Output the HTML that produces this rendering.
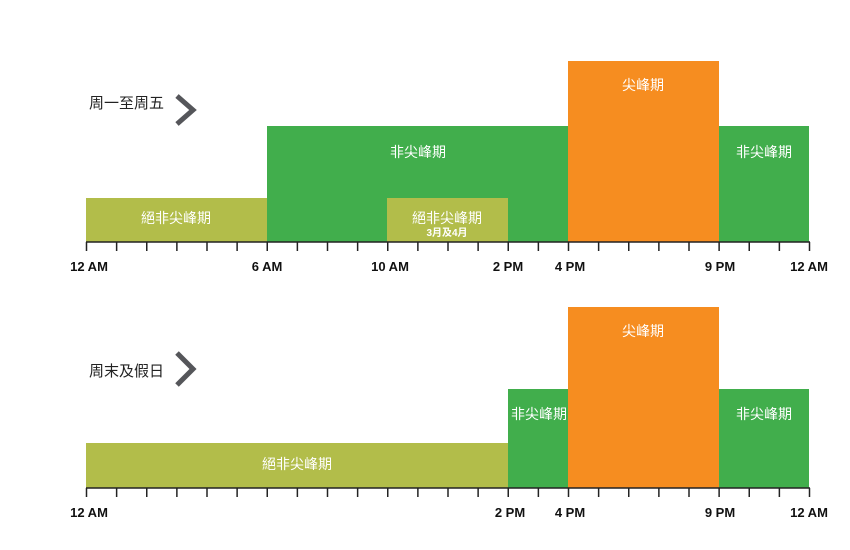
<!DOCTYPE html>
<html><head><meta charset="utf-8"><style>
html,body{margin:0;padding:0;background:#fff;}
svg{display:block;}
.w{fill:#fff;font-family:"Liberation Sans","Noto Sans CJK SC",sans-serif;font-size:14px;}
.lab{fill:#111;font-family:"Liberation Sans Narrow","Liberation Sans",sans-serif;font-weight:bold;font-size:13px;}
.hd{fill:#222;font-family:"Liberation Sans","Noto Sans CJK SC",sans-serif;font-size:15px;}
</style></head><body>
<svg width="850" height="550" viewBox="0 0 850 550" xmlns="http://www.w3.org/2000/svg">
<!-- top chart -->
<text class="hd" x="89" y="108">周一至周五</text>
<polyline points="177,96 193,110 177,124" fill="none" stroke="#55565a" stroke-width="5"/>
<rect x="86" y="198" width="181" height="44" fill="#b2bd4a"/>
<rect x="267" y="126" width="301" height="116" fill="#41ae4c"/>
<rect x="387" y="198" width="121" height="44" fill="#b2bd4a"/>
<rect x="568" y="61" width="151" height="181" fill="#f68d20"/>
<rect x="719" y="126" width="90" height="116" fill="#41ae4c"/>
<text class="w" x="176" y="223" text-anchor="middle">絕非尖峰期</text>
<text class="w" x="418" y="157" text-anchor="middle">非尖峰期</text>
<text class="w" x="447" y="223" text-anchor="middle">絕非尖峰期</text>
<text class="w" x="447" y="236" text-anchor="middle" style="font-size:10px;font-weight:bold">3月及4月</text>
<text class="w" x="643" y="90" text-anchor="middle">尖峰期</text>
<text class="w" x="764" y="157" text-anchor="middle">非尖峰期</text>
<g id="ax1">
<line x1="86" y1="242" x2="810" y2="242" stroke="#222" stroke-width="1.5"/>
</g>
<g stroke="#222" stroke-width="1.5" id="t1"></g>
<text class="lab" x="89" y="271" text-anchor="middle">12 AM</text>
<text class="lab" x="267" y="271" text-anchor="middle">6 AM</text>
<text class="lab" x="390" y="271" text-anchor="middle">10 AM</text>
<text class="lab" x="508" y="271" text-anchor="middle">2 PM</text>
<text class="lab" x="570" y="271" text-anchor="middle">4 PM</text>
<text class="lab" x="720" y="271" text-anchor="middle">9 PM</text>
<text class="lab" x="809" y="271" text-anchor="middle">12 AM</text>
<!-- bottom chart -->
<text class="hd" x="89" y="376">周末及假日</text>
<polyline points="177,353 193,369 177,385" fill="none" stroke="#55565a" stroke-width="5"/>
<rect x="86" y="443" width="422" height="45" fill="#b2bd4a"/>
<rect x="508" y="389" width="60" height="99" fill="#41ae4c"/>
<rect x="568" y="307" width="151" height="181" fill="#f68d20"/>
<rect x="719" y="389" width="90" height="99" fill="#41ae4c"/>
<text class="w" x="297" y="469" text-anchor="middle">絕非尖峰期</text>
<text class="w" x="539" y="419" text-anchor="middle">非尖峰期</text>
<text class="w" x="643" y="336" text-anchor="middle">尖峰期</text>
<text class="w" x="764" y="419" text-anchor="middle">非尖峰期</text>
<line x1="86" y1="488" x2="810" y2="488" stroke="#222" stroke-width="1.5"/>
<g stroke="#222" stroke-width="1.5" id="t2"></g>
<text class="lab" x="89" y="517" text-anchor="middle">12 AM</text>
<text class="lab" x="510" y="517" text-anchor="middle">2 PM</text>
<text class="lab" x="570" y="517" text-anchor="middle">4 PM</text>
<text class="lab" x="720" y="517" text-anchor="middle">9 PM</text>
<text class="lab" x="809" y="517" text-anchor="middle">12 AM</text>
</svg>
<script>
var ns="http://www.w3.org/2000/svg";
[["t1",242],["t2",488]].forEach(function(a){
var g=document.getElementById(a[0]);
for(var i=0;i<=24;i++){var x=86.5+30.125*i;var l=document.createElementNS(ns,"line");
l.setAttribute("x1",x);l.setAttribute("x2",x);l.setAttribute("y1",a[1]);l.setAttribute("y2",a[1]+9);g.appendChild(l);}
});
</script>
</body></html>
